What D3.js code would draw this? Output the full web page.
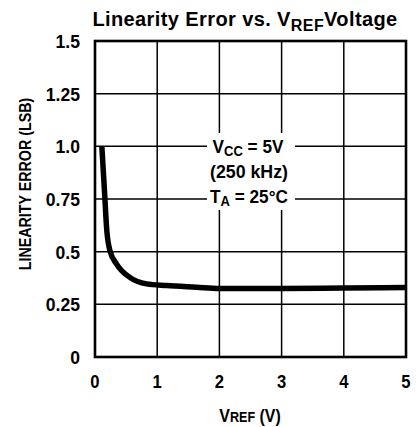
<!DOCTYPE html>
<html>
<head>
<meta charset="utf-8">
<script src="https://cdn.jsdelivr.net/npm/d3@7"></script>
<style>
  html, body { margin: 0; padding: 0; background: #fff; }
  svg text { fill: #000; font-family: "Liberation Sans", Arial, sans-serif; font-weight: bold; }
</style>
</head>
<body>
<div id="container"></div>
<script>
// ==================== data ==================== //

const vref = [0.11, 0.15, 0.19, 0.24, 0.35, 0.56, 0.83, 1.15, 1.63, 2, 3, 4, 5];
const linError = [1.0, 0.8, 0.6, 0.505, 0.44, 0.378, 0.347, 0.339, 0.331, 0.325, 0.325, 0.327, 0.33];

const xTicks = [0, 1, 2, 3, 4, 5];
const yTicks = [0, 0.25, 0.5, 0.75, 1.0, 1.25, 1.5];
const yTickLabels = ["0", "0.25", "0.5", "0.75", "1.0", "1.25", "1.5"];

// ==================== chart ==================== //

const width = 416, height = 427;
const margin = { top: 41, right: 10, bottom: 70, left: 95 };

const svg = d3.select("#container")
    .append("svg")
    .attr("width", width)
    .attr("height", height);

const x = d3.scaleLinear().domain([0, 5]).range([margin.left, width - margin.right]);
const y = d3.scaleLinear().domain([0, 1.5]).range([height - margin.bottom, margin.top]);

// squeeze < 1 fakes the condensed face of the original
function condText(parent, px, py, size, anchor, squeeze = 0.9, rotate = 0) {
    return parent.append("text")
        .attr("transform", `translate(${px},${py}) rotate(${rotate}) scale(${squeeze},1)`)
        .attr("text-anchor", anchor)
        .style("font-size", size + "px");
}

// title
const title = svg.append("text")
    .attr("x", 245)
    .attr("y", 26)
    .attr("text-anchor", "middle")
    .style("font-size", "20px")
    .style("letter-spacing", "0.4px");
title.append("tspan").text("Linearity Error vs. V");
title.append("tspan").text("REF").attr("dy", 5).style("font-size", "16px");
title.append("tspan").text("Voltage").attr("dy", -5);

// grid
svg.append("g")
    .selectAll("line")
    .data(xTicks)
    .join("line")
    .attr("x1", d => x(d)).attr("x2", d => x(d))
    .attr("y1", y(0)).attr("y2", y(1.5))
    .attr("stroke", "#000")
    .attr("stroke-width", 1.5);

svg.append("g")
    .selectAll("line")
    .data(yTicks)
    .join("line")
    .attr("x1", x(0)).attr("x2", x(5))
    .attr("y1", d => y(d)).attr("y2", d => y(d))
    .attr("stroke", "#000")
    .attr("stroke-width", 1.5);

// border
svg.append("rect")
    .attr("x", x(0)).attr("y", y(1.5))
    .attr("width", x(5) - x(0)).attr("height", y(0) - y(1.5))
    .attr("fill", "none")
    .attr("stroke", "#000")
    .attr("stroke-width", 2.6);

// curve
const line = d3.line()
    .x((d, i) => x(vref[i]))
    .y(d => y(d))
    .curve(d3.curveMonotoneX);

svg.append("path")
    .datum(linError)
    .attr("d", line)
    .attr("fill", "none")
    .attr("stroke", "#000")
    .attr("stroke-width", 5.5)
    .attr("stroke-linejoin", "round");

// annotation
svg.append("rect")
    .attr("x", 207).attr("y", 133)
    .attr("width", 88).attr("height", 77)
    .attr("fill", "#fff");

const l1 = condText(svg, 248, 153, 18.5, "middle", 0.93);
l1.append("tspan").text("V");
l1.append("tspan").text("CC").attr("dy", 3).style("font-size", "14px");
l1.append("tspan").text(" = 5V").attr("dy", -3);
condText(svg, 249, 178, 18.5, "middle", 0.96).text("(250 kHz)");
const l3 = condText(svg, 249, 203, 18.5, "middle", 0.93);
l3.append("tspan").text("T");
l3.append("tspan").text("A").attr("dy", 3).style("font-size", "14px");
l3.append("tspan").text(" = 25°C").attr("dy", -3);

// y tick labels
yTicks.forEach((d, i) => {
    condText(svg, 80, y(d) + 7, 18.5, "end", 0.95).text(yTickLabels[i]);
});

// x tick labels
xTicks.forEach(d => {
    condText(svg, x(d), 388, 18.5, "middle", 0.9).text(d);
});

// axis titles
const xt = condText(svg, 250, 422, 19, "middle", 0.84);
xt.append("tspan").text("V");
xt.append("tspan").text("REF").style("font-size", "15px");
xt.append("tspan").text(" (V)");

condText(svg, 31, 184, 17, "middle", 0.84, -90).text("LINEARITY ERROR (LSB)");
</script>
</body>
</html>
